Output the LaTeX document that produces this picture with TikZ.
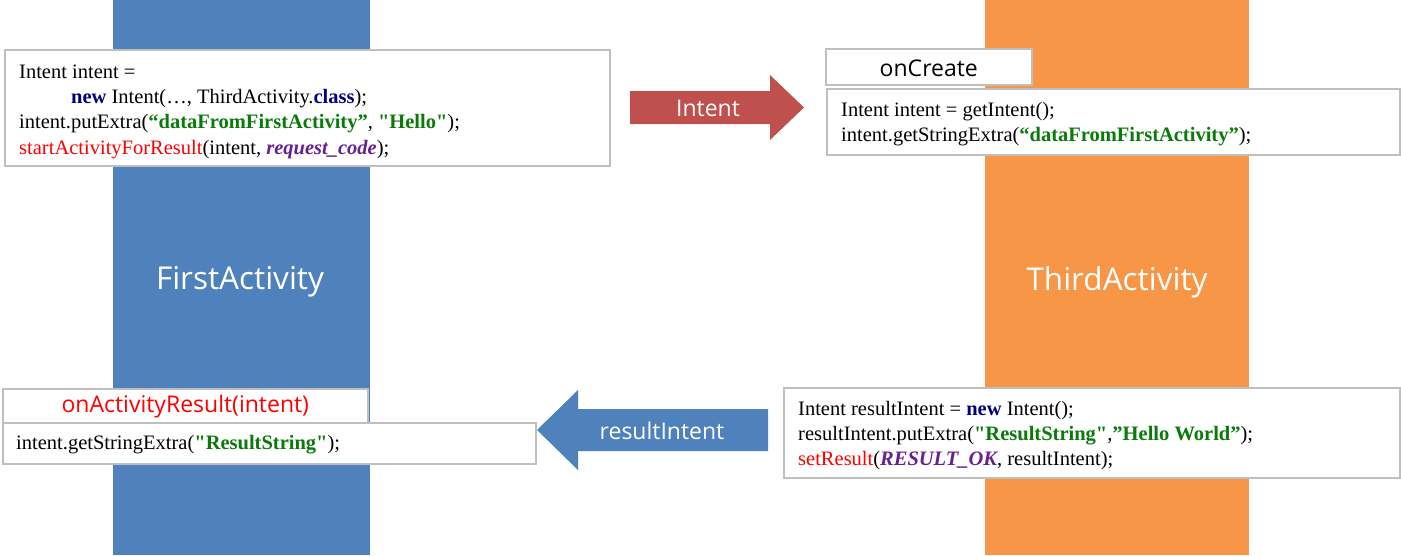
\documentclass[tikz,border=0pt]{standalone}
\usepackage{fontspec}
\setmainfont{Liberation Serif}[Ligatures=TeXOff]
\newfontfamily\uifont{Open Sans}
\definecolor{barblue}{HTML}{4F81BD}
\definecolor{barorange}{HTML}{F79646}
\definecolor{arrred}{HTML}{C0504D}
\definecolor{boxgray}{HTML}{BFBFBF}
\definecolor{codegreen}{HTML}{0A7A0A}
\definecolor{codenavy}{HTML}{000080}
\definecolor{codepurple}{HTML}{66208F}
\definecolor{codered}{HTML}{FF0000}
\newcommand{\kw}[1]{\textbf{\color{codenavy}#1}}
\newcommand{\str}[1]{\textbf{\color{codegreen}#1}}
\newcommand{\cst}[1]{\textbf{\textit{\color{codepurple}#1}}}
\newcommand{\fn}[1]{{\color{codered}#1}}
\begin{document}
\begin{tikzpicture}[x=1pt,y=-1pt,
  codebox/.style={draw=boxgray,line width=1.6pt,fill=white,anchor=north west,inner sep=0pt},
  codetext/.style={anchor=west,inner sep=0pt,align=left,font=\fontsize{20.5}{25.2}\selectfont},
  uilabel/.style={font=\uifont\fontsize{23}{27}\selectfont,inner sep=0pt},
  barlabel/.style={font=\uifont\fontsize{31.5}{36}\selectfont,text=white,inner sep=0pt}]
\useasboundingbox (0,0) rectangle (1401,555);
% activity bars
\fill[barblue] (113,0) rectangle (370,555);
\fill[barorange] (985,0) rectangle (1249,555);
\node[barlabel] (first) at (240,282) {FirstActivity};
\node[barlabel] (third) at (1117,282) {ThirdActivity};
% box 1
\node[codebox,minimum width=605pt,minimum height=116pt] (b1) at (4,49) {};
\node[codetext,xshift=15pt,yshift=-4pt] (t1) at (b1.west) {Intent intent =\\
\hspace*{52pt}\kw{new} Intent(…, ThirdActivity.\kw{class});\\
intent.putExtra(\str{“dataFromFirstActivity”}, \str{"Hello"});\\
\fn{startActivityForResult}(intent, \cst{request\_code});};
% red arrow
\fill[arrred] (630,91) -- (770,91) -- (770,75) -- (804,107.5) -- (770,140) -- (770,124) -- (630,124) -- cycle;
\node[uilabel,text=white] (intentlbl) at (708,108) {Intent};
% onCreate
\node[codebox,minimum width=206pt,minimum height=36pt] (oc) at (825,48) {};
\node[uilabel,yshift=-1pt] (octext) at (oc.center) {onCreate};
\node[codebox,minimum width=573pt,minimum height=66pt] (b2) at (826,88) {};
\node[codetext,xshift=15pt,yshift=-2.5pt] (t2) at (b2.west) {Intent intent = getIntent();\\
intent.getStringExtra(\str{“dataFromFirstActivity”});};
% onActivityResult
\node[codebox,minimum width=365pt,minimum height=34pt] (oar) at (2,388) {};
\node[uilabel,text=codered,yshift=-1pt] (oartext) at (oar.center) {onActivityResult(intent)};
\node[codebox,minimum width=533pt,minimum height=41pt] (b3) at (2,422) {};
\node[codetext,xshift=14pt,yshift=-1pt] (t3) at (b3.west) {intent.getStringExtra(\str{"ResultString"});};
% blue arrow
\fill[barblue] (768,409) -- (578,409) -- (578,390) -- (537,430) -- (578,470) -- (578,451) -- (768,451) -- cycle;
\node[uilabel,text=white] (rilbl) at (662,431) {resultIntent};
% box 4
\node[codebox,minimum width=616pt,minimum height=90pt] (b4) at (783,387) {};
\node[codetext,xshift=15pt,yshift=-3pt] (t4) at (b4.west) {Intent resultIntent = \kw{new} Intent();\\
resultIntent.putExtra(\str{"ResultString"},\str{”Hello World”});\\
\fn{setResult}(\cst{RESULT\_OK}, resultIntent);};
\end{tikzpicture}
\end{document}
